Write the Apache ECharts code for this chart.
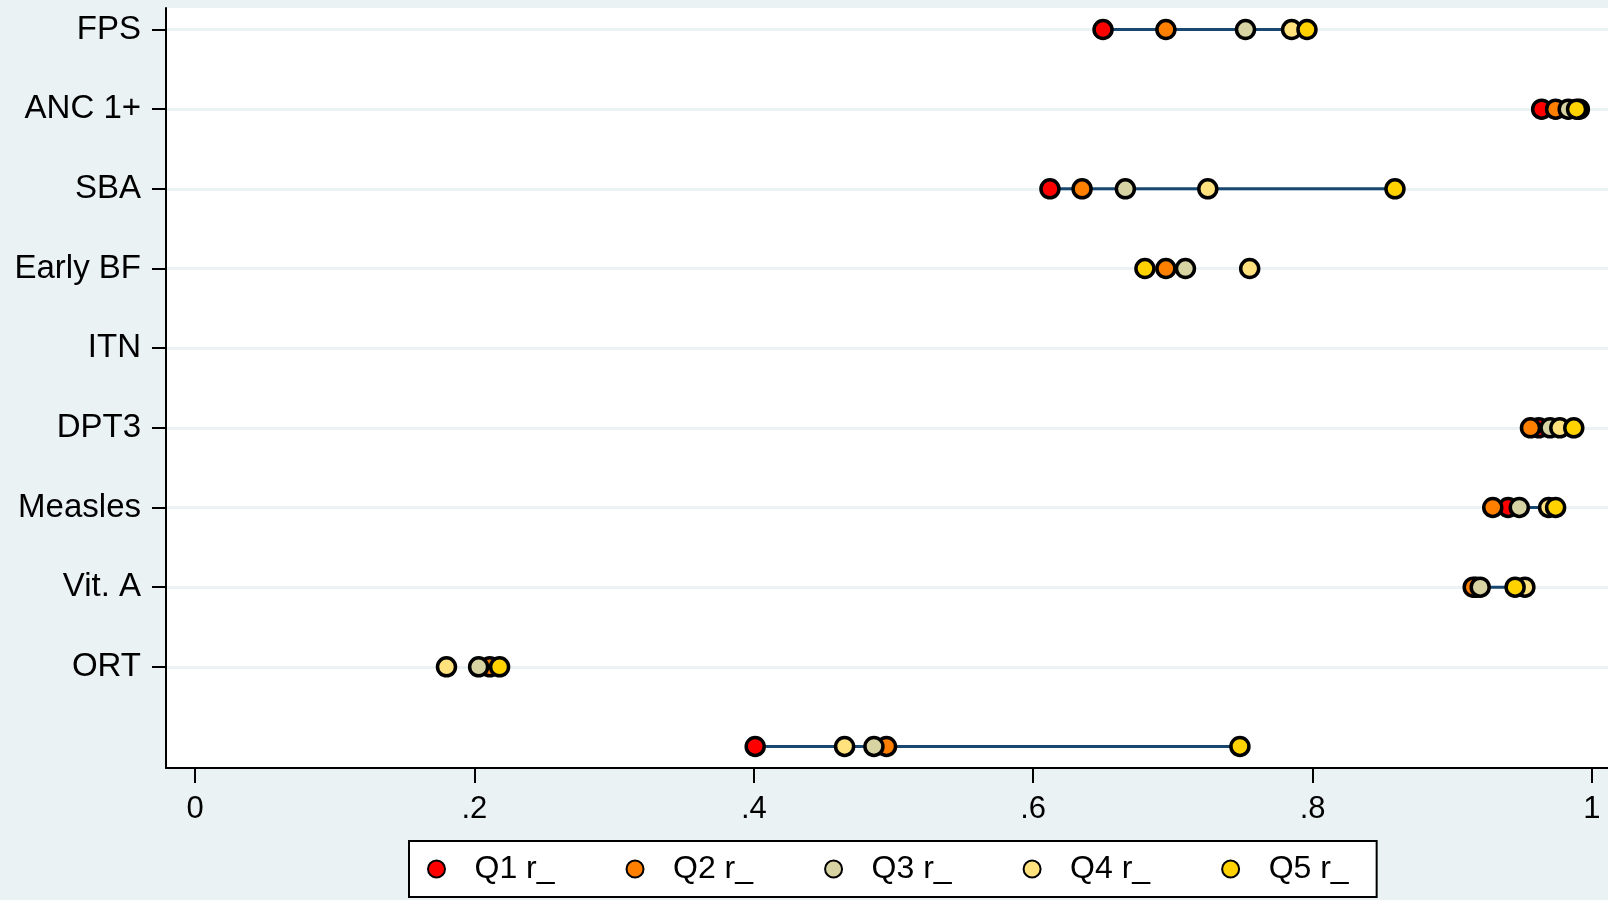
<!DOCTYPE html>
<html>
<head>
<meta charset="utf-8">
<script src="https://cdn.jsdelivr.net/npm/echarts@6/dist/echarts.min.js"></script>
<style>
  html, body { margin: 0; padding: 0; background: #eaf2f3; }
  #chart { width: 1608px; height: 900px; }
</style>
</head>
<body>
<div id="chart"></div>
<script>
// row labels, top to bottom (last row has no label)
var rows = ['FPS', 'ANC 1+', 'SBA', 'Early BF', 'ITN', 'DPT3', 'Measles', 'Vit. A', 'ORT', ''];
var xTicks = [0, 0.2, 0.4, 0.6, 0.8, 1];
var yTicks = [1, 2, 3, 4, 5, 6, 7, 8, 9];

// quintile values per row (null = missing)
var q1 = [0.650, 0.964, 0.612, null, null, 0.962, 0.940, 0.917, null, 0.401];
var q2 = [0.695, 0.974, 0.635, 0.695, null, 0.956, 0.929, 0.915, 0.211, 0.495];
var q3 = [0.752, 0.983, 0.666, 0.709, null, 0.970, 0.948, 0.920, 0.203, 0.486];
var q4 = [0.785, 0.991, 0.725, 0.755, null, 0.977, 0.969, 0.952, 0.180, 0.465];
var q5 = [0.796, 0.989, 0.859, 0.680, null, 0.987, 0.974, 0.945, 0.218, 0.748];

var names = ['Q1 r_', 'Q2 r_', 'Q3 r_', 'Q4 r_', 'Q5 r_'];
var colors = ['#ff0000', '#ff8000', '#d8d3a2', '#ffe27d', '#ffd200'];
var all = [q1, q2, q3, q4, q5];

// spike from Q1 to Q5, only where both exist
var spikes = [];
rows.forEach(function (r, i) {
    if (q1[i] != null && q5[i] != null) spikes.push([q1[i], q5[i], i + 1]);
});

var chart = echarts.init(document.getElementById('chart'));

var series = [{
    type: 'custom',
    z: 1,
    silent: true,
    data: spikes,
    renderItem: function (params, api) {
        var a = api.coord([api.value(0), api.value(2)]);
        var b = api.coord([api.value(1), api.value(2)]);
        return {
            type: 'line',
            shape: { x1: a[0], y1: a[1], x2: b[0], y2: b[1] },
            style: { stroke: '#1a476f', lineWidth: 3 }
        };
    }
}];

all.forEach(function (vals, k) {
    var pts = [];
    vals.forEach(function (v, i) {
        if (v != null) pts.push([v, i + 1]);
    });
    series.push({
        name: names[k],
        type: 'scatter',
        z: 2 + k,
        symbol: 'circle',
        symbolSize: 18,
        itemStyle: { color: colors[k], borderColor: '#000', borderWidth: 3.5, opacity: 1 },
        data: pts
    });
});

var options = {
    backgroundColor: '#eaf2f3',
    animation: false,
    textStyle: { fontFamily: 'Liberation Sans, Arial, sans-serif' },
    grid: { left: 166, right: 0, top: 8, bottom: 132, backgroundColor: '#fff', show: true, borderWidth: 0 },
    xAxis: {
        type: 'value',
        min: -0.0208,
        max: 1.0115,
        axisLine: { show: true, onZero: false, lineStyle: { color: '#000', width: 2 } },
        axisTick: { show: true, customValues: xTicks, length: 15, lineStyle: { color: '#000', width: 2 } },
        axisLabel: {
            customValues: xTicks,
            margin: 26,
            fontSize: 31,
            color: '#000',
            formatter: function (v) {
                return String(+v.toFixed(1)).replace(/^0\./, '.');
            }
        },
        splitLine: { show: false }
    },
    yAxis: {
        type: 'value',
        inverse: true,
        min: 0.73,
        max: 10.27,
        axisLine: { show: true, onZero: false, lineStyle: { color: '#000', width: 2 } },
        axisTick: { show: true, customValues: yTicks, length: 14, lineStyle: { color: '#000', width: 2 } },
        axisLabel: {
            customValues: yTicks,
            margin: 25,
            fontSize: 33,
            color: '#000',
            padding: [3, 0, 0, 0],
            formatter: function (v) { return rows[Math.round(v) - 1]; }
        },
        splitLine: { show: true, lineStyle: { color: '#eaf2f3', width: 3 } }
    },
    legend: {
        data: names,
        left: 409,
        top: 841,
        orient: 'horizontal',
        backgroundColor: '#fff',
        borderColor: '#000',
        borderWidth: 2,
        borderRadius: 0,
        padding: [12, 28, 12, 18],
        itemWidth: 18,
        itemHeight: 17,
        itemGap: 71,
        icon: 'circle',
        textStyle: { fontSize: 32, color: '#000', padding: [0, 0, 0, 24] }
    },
    series: series
};

chart.setOption(options);
</script>
</body>
</html>
